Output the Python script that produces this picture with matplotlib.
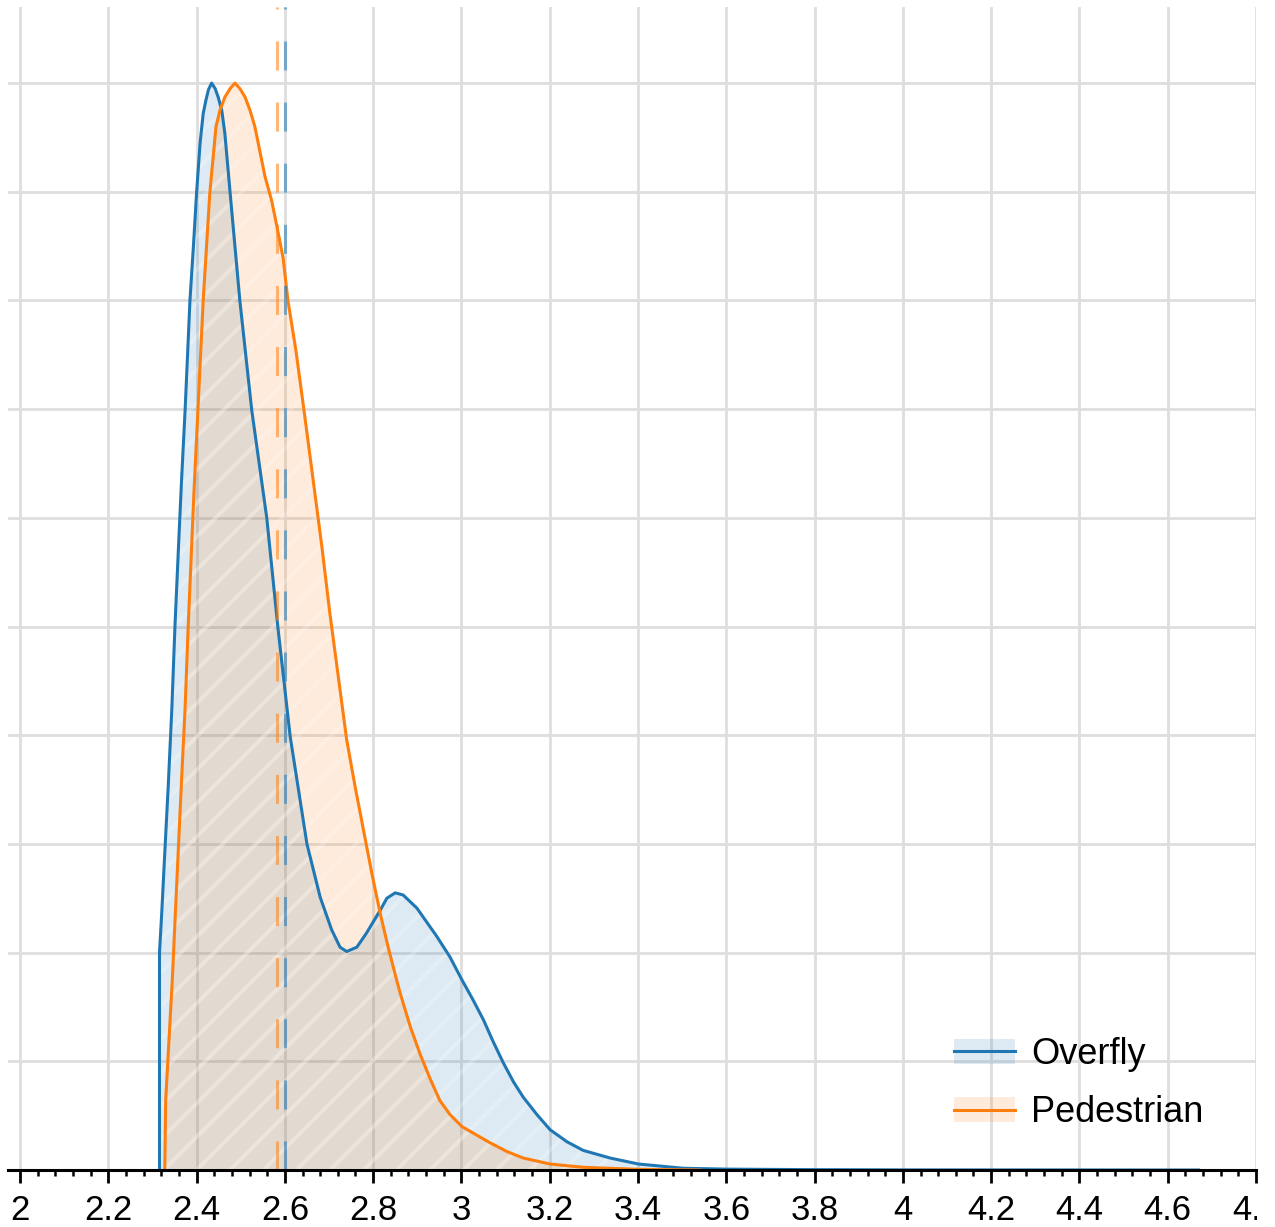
import matplotlib
matplotlib.use("Agg")
import matplotlib.pyplot as plt
from matplotlib.lines import Line2D
from matplotlib.patches import Patch
from matplotlib.ticker import MultipleLocator, FixedLocator
from matplotlib.transforms import Bbox, TransformedBbox

plt.rcParams['font.family'] = ['Liberation Sans', 'DejaVu Sans']
plt.rcParams['hatch.linewidth'] = 3.0

# normalised densities
overfly_x = [2.316, 2.316, 2.321, 2.328, 2.336, 2.344, 2.351, 2.359, 2.366, 2.374,
             2.385, 2.393, 2.400, 2.408, 2.415, 2.421, 2.427, 2.434, 2.442, 2.449,
             2.457, 2.464, 2.476, 2.498, 2.525, 2.559, 2.584, 2.612, 2.650, 2.680,
             2.706, 2.725, 2.740, 2.763, 2.785, 2.816, 2.831, 2.850, 2.868, 2.899,
             2.944, 2.974, 3.001, 3.027, 3.050, 3.072, 3.095, 3.118, 3.140, 3.171,
             3.201, 3.239, 3.276, 3.337, 3.401, 3.503, 3.601, 3.800, 4.000, 4.670]
overfly_y = [0.0, 0.200, 0.236, 0.292, 0.355, 0.425, 0.500, 0.573, 0.635, 0.699,
             0.800, 0.851, 0.899, 0.945, 0.972, 0.984, 0.994, 1.000, 0.995, 0.987,
             0.975, 0.954, 0.899, 0.800, 0.699, 0.600, 0.500, 0.399, 0.300, 0.251,
             0.221, 0.205, 0.201, 0.205, 0.218, 0.239, 0.250, 0.255, 0.253, 0.241,
             0.215, 0.196, 0.175, 0.156, 0.138, 0.118, 0.0985, 0.081, 0.067, 0.051,
             0.037, 0.026, 0.018, 0.011, 0.0055, 0.0016, 0.0008, 0.0003, 0.0001, 0.0]

pedestrian_x = [2.328, 2.330, 2.345, 2.356, 2.366, 2.374, 2.381, 2.394, 2.403, 2.415,
                2.430, 2.444, 2.453, 2.464, 2.476, 2.487, 2.498, 2.510, 2.521, 2.532,
                2.544, 2.555, 2.570, 2.582, 2.596, 2.607, 2.625, 2.643, 2.664, 2.684,
                2.702, 2.721, 2.740, 2.759, 2.778, 2.797, 2.816, 2.834, 2.853, 2.861,
                2.884, 2.906, 2.929, 2.951, 2.974, 3.001, 3.035, 3.065, 3.103, 3.140,
                3.201, 3.276, 3.401, 3.540]
pedestrian_y = [0.0, 0.064, 0.175, 0.272, 0.359, 0.425, 0.500, 0.623, 0.699, 0.800,
                0.899, 0.960, 0.975, 0.987, 0.995, 1.000, 0.995, 0.987, 0.975, 0.960,
                0.936, 0.914, 0.892, 0.868, 0.839, 0.800, 0.754, 0.700, 0.635, 0.573,
                0.512, 0.454, 0.396, 0.353, 0.313, 0.273, 0.236, 0.205, 0.175, 0.163,
                0.132, 0.107, 0.084, 0.064, 0.051, 0.040, 0.032, 0.025, 0.017, 0.011,
                0.0055, 0.0025, 0.0006, 0.0]

overfly_mean = 2.600
pedestrian_mean = 2.582

x_ticks = [2, 2.2, 2.4, 2.6, 2.8, 3, 3.2, 3.4, 3.6, 3.8, 4, 4.2, 4.4, 4.6, 4.8]
labels = ['Overfly', 'Pedestrian']

blue = '#1f77b4'
orange = '#ff7f0e'

fig = plt.figure(figsize=(12.75, 12.27), dpi=100)
ax = fig.add_axes([8 / 1275, 1 - 1170 / 1227, (1256 - 8) / 1275, (1170 - 7) / 1227])

series = [(overfly_x, overfly_y, blue), (pedestrian_x, pedestrian_y, orange)]
for xs, ys, c in series:
    ax.fill_between(xs, ys, 0, facecolor=matplotlib.colors.to_rgba(c, 0.15),
                    edgecolor=(1, 1, 1, 0.22), hatch='/', linewidth=0)
    ax.plot(xs, ys, color=c, lw=2.2, solid_joinstyle='round')

for m, c in [(pedestrian_mean, orange), (overfly_mean, blue)]:
    ax.axvline(m, color=c, alpha=0.55, lw=2.2, linestyle=(0, (9.5, 10.5)))

ax.set_xlim(1.9728, 4.8)
ax.set_ylim(0, 1.07)

ax.xaxis.set_major_locator(FixedLocator(x_ticks))
ax.set_xticklabels(['%g' % t for t in x_ticks])
ax.xaxis.set_minor_locator(MultipleLocator(0.04))
ax.yaxis.set_major_locator(MultipleLocator(0.1))
ax.set_yticklabels([])
ax.tick_params(axis='y', length=0)
ax.tick_params(axis='x', which='major', direction='out', length=9, width=2,
               labelsize=25, pad=8.5)
ax.tick_params(axis='x', which='minor', direction='out', length=4.5, width=1.8)

for s in ['left', 'right', 'top']:
    ax.spines[s].set_visible(False)
ax.spines['bottom'].set_linewidth(2.2)
ax.spines['bottom'].set_color('black')

ax.grid(True, color='#dedede', lw=2)
ax.set_axisbelow(True)

handles = [(Patch(facecolor=blue, alpha=0.15), Line2D([], [], color=blue, lw=2.2)),
           (Patch(facecolor=orange, alpha=0.15), Line2D([], [], color=orange, lw=2.2))]
ax.legend(handles, labels, loc='lower right', bbox_to_anchor=(0.958, 0.034),
          frameon=False, fontsize=26, handlelength=1.7, handletextpad=0.45,
          labelspacing=0.65, borderpad=0, borderaxespad=0)

# last tick label is cut by the figure edge in the original
clip = TransformedBbox(Bbox.from_extents(0, 0, 1257 / 1275, 1), fig.transFigure)
last = ax.get_xticklabels()[-1]
last.set_clip_on(True)
last.set_clip_box(clip)

fig.savefig('out.png', dpi=100)
